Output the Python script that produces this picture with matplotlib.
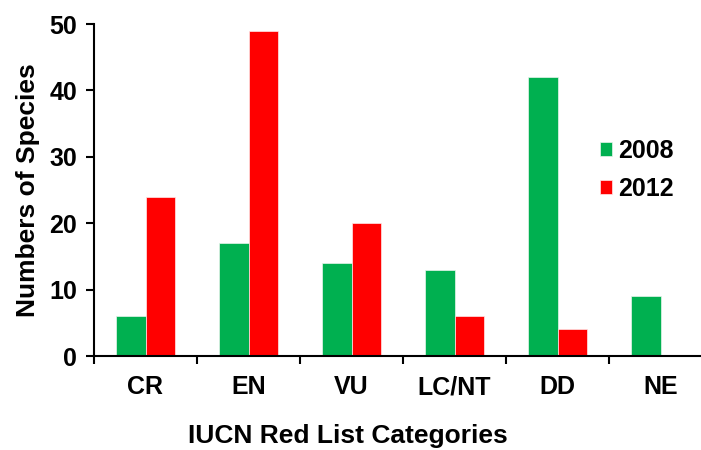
import matplotlib
matplotlib.use("Agg")
import matplotlib.pyplot as plt
import numpy as np

categories = ["CR", "EN", "VU", "LC/NT", "DD", "NE"]
values_2008 = [6, 17, 14, 13, 42, 9]
values_2012 = [24, 49, 20, 6, 4, 0]
yticks = [0, 10, 20, 30, 40, 50]

plt.rcParams['font.family'] = ['Liberation Sans', 'DejaVu Sans']
plt.rcParams['font.weight'] = 'bold'

fig = plt.figure(figsize=(7.01, 4.5), dpi=100)
ax = fig.add_axes([94/701, 94/450, 618/701, 332/450])

x = np.arange(len(categories))
w = 0.286
ax.bar(x - w/2, values_2008, width=w, color="#00B050", edgecolor="#e8f5ec", linewidth=0.5, label="2008")
ax.bar(x + w/2, values_2012, width=w, color="#FF0000", edgecolor="#ffe8e8", linewidth=0.5, label="2012")

ax.set_xlim(-0.5, len(categories) - 0.5)
ax.set_ylim(0, 50)
ax.set_yticks(yticks)
ax.set_yticklabels([str(v) for v in yticks], fontsize=18, fontweight='bold')
ax.set_xticks(x)
ax.set_xticklabels(categories, fontsize=18, fontweight='bold')
ax.set_xticks(np.arange(len(categories) + 1) - 0.5, minor=True)
ax.tick_params(axis='x', which='major', length=0, pad=14)
ax.tick_params(axis='x', which='minor', length=6, width=1.5, direction='out')
ax.tick_params(axis='y', which='major', length=6, width=1.5, direction='out', pad=6)

for s in ['top', 'right']:
    ax.spines[s].set_visible(False)
ax.spines['left'].set_linewidth(1.5)
ax.spines['bottom'].set_linewidth(1.5)

ax.set_ylabel("Numbers of Species", fontsize=19, fontweight='bold')
ax.set_xlabel("IUCN Red List Categories", fontsize=19, fontweight='bold')
ax.yaxis.set_label_coords(-0.087, 0.5)
ax.xaxis.set_label_coords((348 - 94) / 618, -0.205)

ax.legend(loc='center left', bbox_to_anchor=(577/701, (450-170)/450),
          bbox_transform=fig.transFigure, frameon=False,
          prop={'size': 18, 'weight': 'bold'},
          handlelength=0.48, handleheight=0.48, handletextpad=0.25, labelspacing=0.58)

fig.savefig("out.png", dpi=100)
